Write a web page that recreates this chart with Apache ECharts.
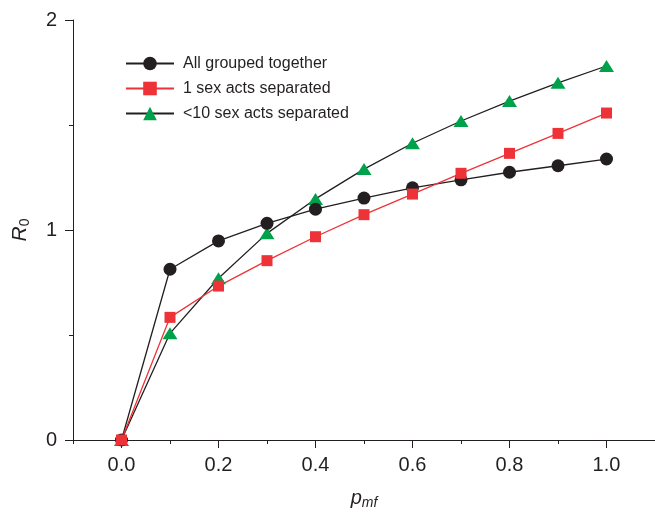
<!DOCTYPE html>
<html>
<head>
<meta charset="utf-8">
<script src="https://cdn.jsdelivr.net/npm/echarts@6/dist/echarts.min.js"></script>
<style>html,body{margin:0;padding:0;background:#fff}#c{width:655px;height:513px}</style>
</head>
<body>
<div id="c"></div>
<script>
var xValues = [0, 0.1, 0.2, 0.3, 0.4, 0.5, 0.6, 0.7, 0.8, 0.9, 1.0];
var allGrouped = [0, 0.813, 0.948, 1.032, 1.099, 1.152, 1.201, 1.239, 1.275, 1.306, 1.338];
var oneSeparated = [0, 0.584, 0.733, 0.854, 0.968, 1.073, 1.171, 1.270, 1.365, 1.460, 1.557];
var tenSeparated = [0, 0.508, 0.770, 0.984, 1.148, 1.290, 1.413, 1.519, 1.614, 1.701, 1.781];
var xMajorTicks = [0, 0.2, 0.4, 0.6, 0.8, 1.0];
var xMinorTicks = [-0.1, 0.1, 0.3, 0.5, 0.7, 0.9, 1.1];
var yMajorTicks = [0, 1, 2];
var yMinorTicks = [0.5, 1.5];
var names = ['All grouped together', '1 sex acts separated', '<10 sex acts separated'];

function pairs(ys) { return xValues.map(function (x, i) { return [x, ys[i]]; }); }

var INK = '#231f20', RED = '#ee3338', GREEN = '#00a14b';
var FONT = 'Liberation Sans, Arial, sans-serif';

var chart = echarts.init(document.getElementById('c'));
chart.setOption({
  animation: false,
  backgroundColor: '#fff',
  textStyle: { fontFamily: FONT },
  grid: { left: 73, right: 0, top: 20, bottom: 73, containLabel: false, outerBoundsMode: 'none' },
  legend: {
    data: names,
    orient: 'vertical',
    left: 125,
    top: 55,
    padding: 0,
    itemWidth: 48,
    itemHeight: 17,
    itemGap: 8,
    textStyle: { fontSize: 16, color: INK, fontFamily: FONT, padding: [0, 0, 0, 4], lineHeight: 17 }
  },
  xAxis: [{
    type: 'value', min: -0.1, max: 1.1, position: 'bottom',
    name: '{i|p}{s|mf}', nameLocation: 'middle', nameGap: 46,
    nameTextStyle: {
      rich: {
        i: { fontSize: 20, fontStyle: 'italic', color: INK, fontFamily: FONT },
        s: { fontSize: 14, fontStyle: 'italic', color: INK, fontFamily: FONT, padding: [10, 0, 0, 0] }
      }
    },
    splitLine: { show: false },
    axisLine: { onZero: false, lineStyle: { color: INK, width: 1 } },
    axisTick: { customValues: xMajorTicks, length: 8, lineStyle: { color: INK } },
    axisLabel: { customValues: xMajorTicks, fontSize: 20, color: INK, margin: 15, fontFamily: FONT,
      formatter: function (v) { return v.toFixed(1); } }
  }, {
    type: 'value', min: -0.1, max: 1.1, position: 'bottom',
    splitLine: { show: false },
    axisLine: { show: false, onZero: false },
    axisTick: { customValues: xMinorTicks, length: 4, lineStyle: { color: INK } },
    axisLabel: { show: false }
  }],
  yAxis: [{
    type: 'value', min: 0, max: 2, position: 'left',
    name: '{i|R}{s|0}', nameLocation: 'middle', nameGap: 41, nameRotate: 90,
    nameTextStyle: {
      rich: {
        i: { fontSize: 21, fontStyle: 'italic', color: INK, fontFamily: FONT },
        s: { fontSize: 14, color: INK, fontFamily: FONT, padding: [10, 0, 0, 0] }
      }
    },
    splitLine: { show: false },
    axisLine: { show: true, onZero: false, lineStyle: { color: INK, width: 1 } },
    axisTick: { show: true, customValues: yMajorTicks, length: 8, lineStyle: { color: INK } },
    axisLabel: { customValues: yMajorTicks, fontSize: 20, color: INK, margin: 16, fontFamily: FONT }
  }, {
    type: 'value', min: 0, max: 2, position: 'left',
    splitLine: { show: false },
    axisLine: { show: false, onZero: false },
    axisTick: { show: true, customValues: yMinorTicks, length: 4, lineStyle: { color: INK } },
    axisLabel: { show: false }
  }],
  series: [{
    name: names[2], type: 'line', data: pairs(tenSeparated),
    symbol: 'triangle', symbolSize: [15, 12],
    itemStyle: { color: GREEN }, lineStyle: { color: INK, width: 1.3 }
  }, {
    name: names[0], type: 'line', data: pairs(allGrouped),
    symbol: 'circle', symbolSize: 13,
    itemStyle: { color: INK }, lineStyle: { color: INK, width: 1.3 }
  }, {
    name: names[1], type: 'line', data: pairs(oneSeparated),
    symbol: 'rect', symbolSize: 11,
    itemStyle: { color: RED }, lineStyle: { color: RED, width: 1.3 }
  }]
});
</script>
</body>
</html>
